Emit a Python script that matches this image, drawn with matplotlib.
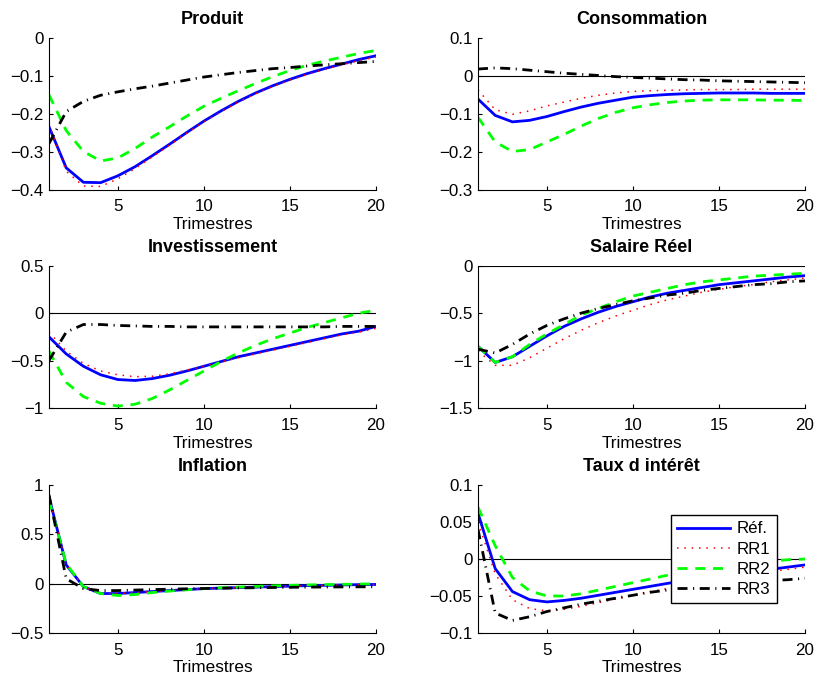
import matplotlib
matplotlib.use("Agg")
import matplotlib.pyplot as plt
import numpy as np

plt.rcParams['font.family'] = ['Liberation Sans', 'DejaVu Sans']

trimestres = np.arange(1, 21)
series_names = ["Réf.", "RR1", "RR2", "RR3"]

# Produit
produit_ref = [-0.235, -0.343, -0.381, -0.382, -0.364, -0.340, -0.311, -0.281, -0.250, -0.220,
               -0.193, -0.168, -0.146, -0.127, -0.110, -0.095, -0.082, -0.070, -0.058, -0.048]
produit_rr1 = [-0.228, -0.352, -0.391, -0.392, -0.372, -0.345, -0.314, -0.283, -0.252, -0.222,
               -0.195, -0.170, -0.148, -0.129, -0.112, -0.097, -0.084, -0.072, -0.061, -0.051]
produit_rr2 = [-0.151, -0.245, -0.300, -0.325, -0.317, -0.292, -0.262, -0.235, -0.207, -0.181,
               -0.160, -0.140, -0.121, -0.103, -0.087, -0.073, -0.062, -0.052, -0.042, -0.034]
produit_rr3 = [-0.279, -0.195, -0.168, -0.152, -0.143, -0.135, -0.128, -0.120, -0.112, -0.104,
               -0.098, -0.092, -0.087, -0.082, -0.079, -0.075, -0.072, -0.069, -0.066, -0.063]

# Consommation
conso_ref = [-0.062, -0.105, -0.122, -0.118, -0.108, -0.095, -0.083, -0.073, -0.065, -0.057,
             -0.053, -0.050, -0.048, -0.047, -0.046, -0.046, -0.046, -0.047, -0.047, -0.047]
conso_rr1 = [-0.038, -0.090, -0.102, -0.093, -0.080, -0.070, -0.060, -0.052, -0.046, -0.042,
             -0.040, -0.039, -0.038, -0.037, -0.037, -0.037, -0.036, -0.036, -0.036, -0.036]
conso_rr2 = [-0.110, -0.175, -0.200, -0.195, -0.175, -0.155, -0.133, -0.113, -0.097, -0.085,
             -0.077, -0.071, -0.067, -0.065, -0.064, -0.064, -0.064, -0.065, -0.065, -0.066]
conso_rr3 = [0.017, 0.020, 0.018, 0.014, 0.010, 0.006, 0.003, 0.000, -0.003, -0.005,
             -0.007, -0.009, -0.011, -0.012, -0.014, -0.015, -0.016, -0.017, -0.018, -0.019]

# Investissement
invest_ref = [-0.25, -0.43, -0.56, -0.65, -0.70, -0.71, -0.69, -0.655, -0.61, -0.56,
              -0.51, -0.46, -0.42, -0.38, -0.34, -0.30, -0.26, -0.22, -0.19, -0.14]
invest_rr1 = [-0.20, -0.40, -0.53, -0.61, -0.65, -0.67, -0.665, -0.64, -0.60, -0.56,
              -0.515, -0.47, -0.43, -0.39, -0.35, -0.31, -0.27, -0.23, -0.20, -0.16]
invest_rr2 = [-0.40, -0.73, -0.88, -0.95, -0.98, -0.96, -0.90, -0.81, -0.71, -0.61,
              -0.51, -0.42, -0.34, -0.27, -0.21, -0.15, -0.10, -0.05, 0.00, 0.03]
invest_rr3 = [-0.50, -0.20, -0.12, -0.12, -0.13, -0.135, -0.14, -0.14, -0.145, -0.145,
              -0.145, -0.145, -0.145, -0.145, -0.145, -0.145, -0.145, -0.14, -0.14, -0.14]

# Salaire Réel
salaire_ref = [-0.85, -1.02, -0.96, -0.85, -0.74, -0.64, -0.56, -0.49, -0.43, -0.38,
               -0.33, -0.29, -0.26, -0.23, -0.20, -0.18, -0.16, -0.14, -0.12, -0.105]
salaire_rr1 = [-0.90, -1.05, -1.05, -0.97, -0.87, -0.77, -0.68, -0.60, -0.53, -0.47,
               -0.41, -0.36, -0.32, -0.28, -0.25, -0.22, -0.20, -0.17, -0.15, -0.13]
salaire_rr2 = [-0.85, -1.02, -0.96, -0.83, -0.72, -0.62, -0.52, -0.45, -0.38, -0.32,
               -0.28, -0.24, -0.20, -0.17, -0.15, -0.13, -0.11, -0.10, -0.09, -0.08]
salaire_rr3 = [-0.88, -0.92, -0.83, -0.72, -0.63, -0.56, -0.50, -0.45, -0.41, -0.37,
               -0.34, -0.31, -0.29, -0.26, -0.24, -0.22, -0.20, -0.19, -0.17, -0.16]

# Inflation
inflation_ref = [0.88, 0.19, -0.03, -0.10, -0.10, -0.09, -0.08, -0.07, -0.06, -0.05,
                 -0.045, -0.04, -0.035, -0.03, -0.025, -0.02, -0.017, -0.013, -0.01, -0.008]
inflation_rr1 = [0.88, 0.19, -0.03, -0.10, -0.10, -0.09, -0.08, -0.07, -0.06, -0.05,
                 -0.045, -0.04, -0.035, -0.03, -0.025, -0.02, -0.017, -0.013, -0.01, -0.008]
inflation_rr2 = [0.85, 0.20, -0.03, -0.10, -0.12, -0.11, -0.09, -0.075, -0.062, -0.05,
                 -0.042, -0.035, -0.028, -0.022, -0.017, -0.013, -0.01, -0.007, -0.004, -0.002]
inflation_rr3 = [0.90, 0.05, -0.05, -0.07, -0.07, -0.065, -0.06, -0.056, -0.052, -0.049,
                 -0.046, -0.043, -0.041, -0.039, -0.037, -0.035, -0.034, -0.033, -0.032, -0.031]

# Taux d intérêt
taux_ref = [0.062, -0.013, -0.044, -0.055, -0.058, -0.056, -0.053, -0.049, -0.045, -0.041,
            -0.037, -0.033, -0.029, -0.026, -0.023, -0.020, -0.017, -0.014, -0.011, -0.008]
taux_rr1 = [0.050, -0.020, -0.055, -0.067, -0.070, -0.068, -0.064, -0.059, -0.054, -0.049,
            -0.044, -0.040, -0.035, -0.031, -0.027, -0.024, -0.020, -0.017, -0.014, -0.011]
taux_rr2 = [0.070, 0.018, -0.025, -0.043, -0.050, -0.050, -0.047, -0.042, -0.037, -0.032,
            -0.027, -0.022, -0.018, -0.014, -0.011, -0.008, -0.005, -0.003, -0.001, 0.000]
taux_rr3 = [0.040, -0.073, -0.083, -0.078, -0.071, -0.066, -0.061, -0.057, -0.053, -0.049,
            -0.045, -0.042, -0.039, -0.037, -0.035, -0.033, -0.031, -0.029, -0.028, -0.026]

titles = ["Produit", "Consommation", "Investissement", "Salaire Réel", "Inflation", "Taux d intérêt"]
panel_data = [
    [produit_ref, produit_rr1, produit_rr2, produit_rr3],
    [conso_ref, conso_rr1, conso_rr2, conso_rr3],
    [invest_ref, invest_rr1, invest_rr2, invest_rr3],
    [salaire_ref, salaire_rr1, salaire_rr2, salaire_rr3],
    [inflation_ref, inflation_rr1, inflation_rr2, inflation_rr3],
    [taux_ref, taux_rr1, taux_rr2, taux_rr3],
]
ylims = [(-0.4, 0), (-0.3, 0.1), (-1, 0.5), (-1.5, 0), (-0.5, 1), (-0.1, 0.1)]
yticks = [
    [-0.4, -0.3, -0.2, -0.1, 0],
    [-0.3, -0.2, -0.1, 0, 0.1],
    [-1, -0.5, 0, 0.5],
    [-1.5, -1, -0.5, 0],
    [-0.5, 0, 0.5, 1],
    [-0.1, -0.05, 0, 0.05, 0.1],
]
ytick_labels = [
    ["\u22120.4", "\u22120.3", "\u22120.2", "\u22120.1", "0"],
    ["\u22120.3", "\u22120.2", "\u22120.1", "0", "0.1"],
    ["\u22121", "\u22120.5", "0", "0.5"],
    ["\u22121.5", "\u22121", "\u22120.5", "0"],
    ["\u22120.5", "0", "0.5", "1"],
    ["\u22120.1", "\u22120.05", "0", "0.05", "0.1"],
]
xticks = [5, 10, 15, 20]

styles = [
    dict(color=(0, 0, 1), lw=2.0, ls="-"),
    dict(color=(1, 0, 0), lw=1.1, dashes=(1.0, 3.8)),
    dict(color=(0, 1, 0), lw=2.0, dashes=(3.6, 2.8)),
    dict(color=(0, 0, 0), lw=2.0, dashes=(3.6, 2.0, 0.4, 2.0)),
]

fig = plt.figure(figsize=(8.18, 6.8), dpi=100)

W, H = 818.0, 680.0
col_x = [49, 478]
ax_w = 327
rows = [(37.5, 189.5), (265.7, 408), (485, 633)]

axes = []
for i in range(6):
    r, c = divmod(i, 2)
    top, bot = rows[r]
    ax = fig.add_axes([col_x[c] / W, 1 - bot / H, ax_w / W, (bot - top) / H])
    axes.append(ax)

    if i != 0:
        ax.axhline(0, color="black", lw=0.8, zorder=1)

    lines = []
    for vals, st in zip(panel_data[i], styles):
        ln, = ax.plot(trimestres, vals, zorder=2, **st)
        lines.append(ln)

    ax.set_xlim(1, 20)
    ax.set_ylim(*ylims[i])
    ax.set_xticks(xticks)
    ax.set_yticks(yticks[i])
    ax.set_yticklabels(ytick_labels[i])
    ax.spines["top"].set_visible(False)
    ax.spines["right"].set_visible(False)
    ax.tick_params(direction="in", length=3, labelsize=12.2)
    ax.tick_params(axis="x", pad=7)
    ax.tick_params(axis="y", pad=4)
    ax.set_xlabel("Trimestres", fontsize=12.3, labelpad=2)
    ax.set_title(titles[i], fontsize=13, fontweight="bold", pad=10)

    if i == 5:
        leg = ax.legend(lines, series_names, loc="upper left",
                        bbox_to_anchor=(0.59, 0.797), fontsize=12.2,
                        handlelength=3.1, handletextpad=0.4, labelspacing=0.3,
                        borderpad=0.38, borderaxespad=0, fancybox=False,
                        framealpha=1, edgecolor="black")
        leg.get_frame().set_linewidth(1.0)

fig.savefig("out.png", dpi=100)
